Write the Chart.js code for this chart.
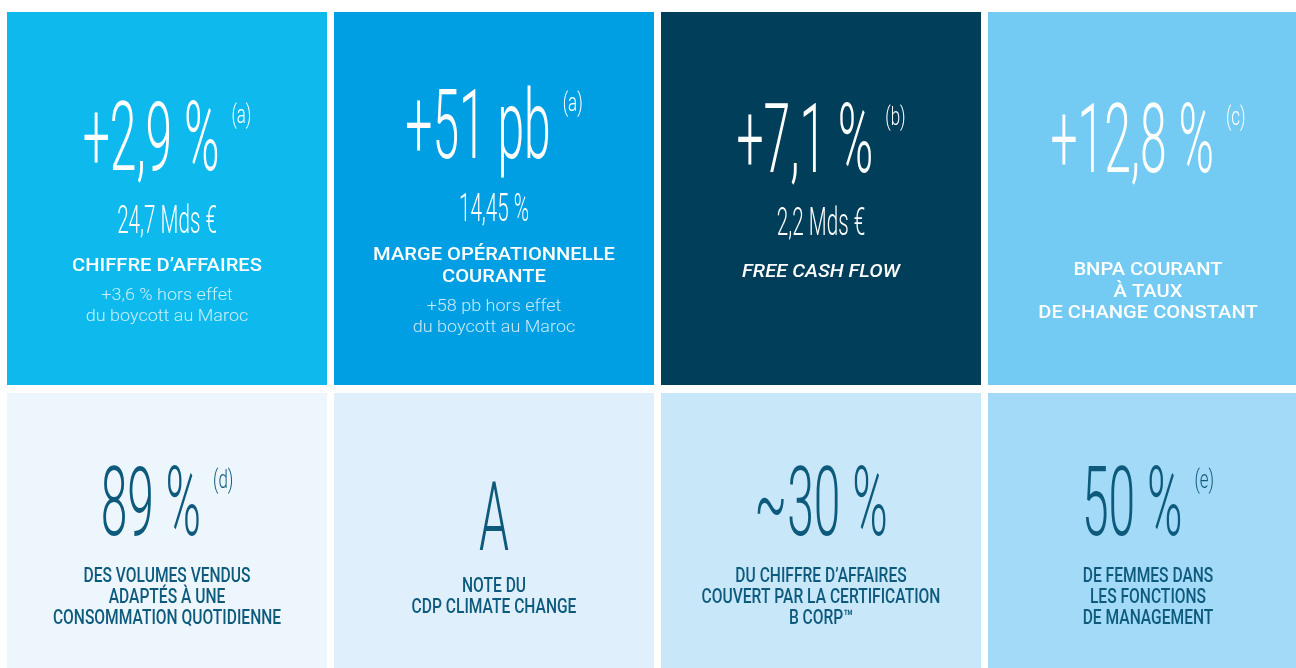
<!DOCTYPE html>
<html lang="fr">
<head>
<meta charset="utf-8">
<title>Chiffres clés</title>
<script src="https://cdn.jsdelivr.net/npm/chart.js@4/dist/chart.umd.min.js"></script>
<style>
  html, body { margin: 0; padding: 0; background: #fff; overflow: hidden; }
  #wrap { width: 1296px; height: 668px; overflow: hidden; }
  canvas { display: block; }
</style>
</head>
<body>
<div id="wrap"><canvas id="kpiChart" width="1316" height="772"></canvas></div>
<script>
// données des tuiles (ligne du haut puis ligne du bas)
const columns = ['CA', 'MOC', 'FCF', 'BNPA'];
const topRow = [[1, 2], [1, 2], [1, 2], [1, 2]];
const bottomRow = [[0, 1], [0, 1], [0, 1], [0, 1]];

const bigValues = ['+2,9 %', '+51 pb', '+7,1 %', '+12,8 %', '89 %', 'A', '~30 %', '50 %'];
const footnotes = ['(a)', '(a)', '(b)', '(c)', '(d)', '', '', '(e)'];
const subValues = ['24,7 Mds €', '14,45 %', '2,2 Mds €', '', '', '', '', ''];
const titles = [
  ['CHIFFRE D’AFFAIRES'],
  ['MARGE OPÉRATIONNELLE', 'COURANTE'],
  ['FREE CASH FLOW'],
  ['BNPA COURANT', 'À TAUX', 'DE CHANGE CONSTANT'],
  ['DES VOLUMES VENDUS', 'ADAPTÉS À UNE', 'CONSOMMATION QUOTIDIENNE'],
  ['NOTE DU', 'CDP CLIMATE CHANGE'],
  ['DU CHIFFRE D’AFFAIRES', 'COUVERT PAR LA CERTIFICATION', 'B CORP™'],
  ['DE FEMMES DANS', 'LES FONCTIONS', 'DE MANAGEMENT']
];
const notes = [
  ['+3,6 % hors effet', 'du boycott au Maroc'],
  ['+58 pb hors effet', 'du boycott au Maroc'],
  [], [], [], [], [], []
];

// styles
const topColors = ['#0DB9ED', '#009FE3', '#003E5A', '#73CAF3'];
const bottomColors = ['#EEF6FD', '#DFF0FC', '#C8E7F8', '#A3DAF7'];
const darkText = '#0D5A7C';
// position verticale depuis le haut de la tuile
const bigOffset = [158, 146, 160, 160, 142, 157, 142, 142];
const titleOffset = [259, 248, 265, 263, 189, 199, 189, 189];

function drawScaled(ctx, text, x, y, sx, align) {
  const w = ctx.measureText(text).width * sx;
  let left = x;
  if (align === 'center') left = x - w / 2;
  ctx.save();
  ctx.translate(left, y);
  ctx.scale(sx, 1);
  ctx.textAlign = 'left';
  ctx.fillText(text, 0, 0);
  ctx.restore();
  return w;
}

const tileText = {
  id: 'tileText',
  afterDatasetsDraw(chart) {
    const ctx = chart.ctx;
    ctx.save();
    ctx.textBaseline = 'alphabetic';
    chart.data.datasets.forEach((ds, row) => {
      const meta = chart.getDatasetMeta(row);
      meta.data.forEach((bar, col) => {
        const i = row * 4 + col;
        const dark = row === 1;
        const cx = bar.x;
        const top = Math.min(bar.y, bar.base) + 4;
        const by = top + bigOffset[i];
        ctx.fillStyle = dark ? darkText : '#ffffff';

        // grand chiffre + renvoi
        const bigFont = '300 96px Roboto';
        const supFont = '300 26px Roboto';
        ctx.font = bigFont;
        const mainW = ctx.measureText(bigValues[i]).width * 0.5;
        ctx.font = supFont;
        const supW = footnotes[i] ? ctx.measureText(footnotes[i]).width * 0.65 : 0;
        const gap = footnotes[i] ? 12 : 0;
        const start = cx - (mainW + gap + supW) / 2;
        ctx.font = bigFont;
        drawScaled(ctx, bigValues[i], start, by, 0.5, 'left');
        if (footnotes[i]) {
          ctx.font = supFont;
          drawScaled(ctx, footnotes[i], start + mainW + gap, by - 47, 0.65, 'left');
        }

        // valeur secondaire
        if (subValues[i]) {
          ctx.font = '300 39px Roboto';
          drawScaled(ctx, subValues[i], cx, by + 63, 0.53, 'center');
        }

        // libellés
        let ty = top + titleOffset[i];
        const italic = i === 2 ? 'italic ' : '';
        ctx.font = italic + (dark ? '500 20px Roboto' : '500 19px Roboto');
        titles[i].forEach(line => {
          drawScaled(ctx, line, cx, ty, dark ? 0.78 : 1.06, 'center');
          ty += dark ? 21 : 21.5;
        });

        // notes
        if (notes[i].length) {
          ty += 7.5;
          ctx.font = '300 17px Roboto';
          ctx.fillStyle = 'rgba(255,255,255,0.78)';
          notes[i].forEach(line => {
            drawScaled(ctx, line, cx, ty, 1.06, 'center');
            ty += 21;
          });
        }
      });
    });
    ctx.restore();
  }
};

const ctx = document.getElementById('kpiChart').getContext('2d');
new Chart(ctx, {
  type: 'bar',
  data: {
    labels: columns,
    datasets: [
      { label: 'haut', data: topRow, backgroundColor: topColors },
      { label: 'bas', data: bottomRow, backgroundColor: bottomColors }
    ]
  },
  options: {
    responsive: false,
    animation: false,
    layout: { padding: { left: 3.5, right: 4.5, top: 8, bottom: 2 } },
    datasets: {
      bar: {
        grouped: false,
        barPercentage: 1,
        categoryPercentage: 1,
        borderColor: '#ffffff',
        borderWidth: { left: 3.5, right: 3.5, top: 4, bottom: 4 },
        borderSkipped: false,
        inflateAmount: 0
      }
    },
    scales: {
      x: { display: false },
      y: { display: false, min: 0, max: 2 }
    },
    plugins: {
      legend: { display: false },
      tooltip: { enabled: false }
    }
  },
  plugins: [tileText]
});
</script>
</body>
</html>
